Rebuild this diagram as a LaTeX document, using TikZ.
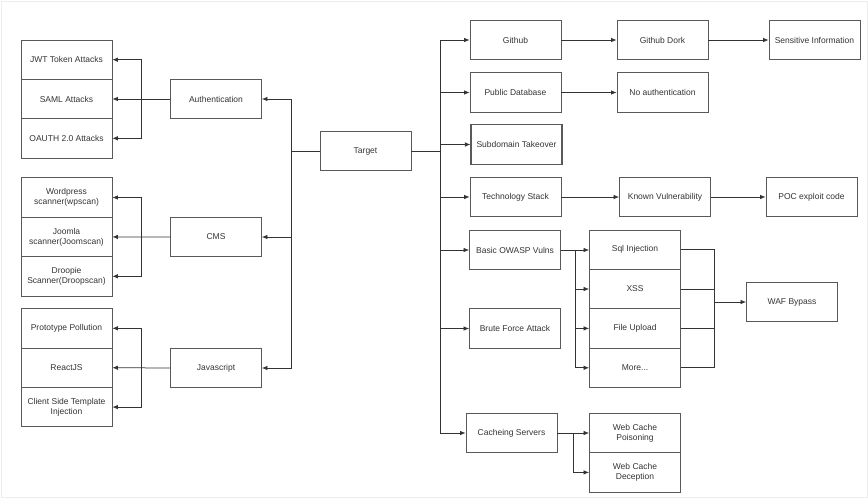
\documentclass[tikz,border=0pt]{standalone}
\usepackage{fontspec}
\setmainfont{Liberation Sans}
\definecolor{linegray}{rgb}{0.2, 0.2, 0.2}
\definecolor{boxgray}{rgb}{0.35, 0.35, 0.35}
\usepackage{tikz}
\usetikzlibrary{
    arrows.meta,
    positioning,
    calc
}
\tikzstyle{box} = [
    rectangle,
    draw=boxgray,
    line width=0.8pt,
    minimum width=91pt,
    minimum height=39.4pt,
    inner sep=1pt,
    align=center,
    text=linegray,
    font=\fontsize{8.5}{10}\selectfont
]
\tikzstyle{arrow} = [
    -{Latex[length=5.5pt,width=4.5pt]},
    line width=0.75pt,
    draw=linegray
]
\tikzstyle{wire} = [
    line width=0.75pt,
    draw=linegray
]

\begin{document}
\begin{tikzpicture}[x=1pt, y=-1pt]
        \useasboundingbox (0,0) rectangle (868,498);
        \draw[black!7] (1,1) rectangle (867,497);

        % Root
        \node[box] (target) at (365.5,151) {Target};

        % Left branches
        \node[box] (auth) at (216,99) {Authentication};
        \node[box] (cms) at (216,237) {CMS};
        \node[box] (js) at (216,368) {Javascript};

        \node[box] (jwt) at (66.5,59.7) {JWT Token Attacks};
        \node[box] (saml) at (66.5,99) {SAML Attacks};
        \node[box] (oauth) at (66.5,138.3) {OAUTH 2.0 Attacks};

        \node[box] (wpscan) at (66.5,197.5) {Wordpress\\scanner(wpscan)};
        \node[box] (joomscan) at (66.5,236.9) {Joomla\\scanner(Joomscan)};
        \node[box] (droopscan) at (66.5,276.3) {Droopie\\Scanner(Droopscan)};

        \node[box] (proto) at (66.5,328.3) {Prototype Pollution};
        \node[box] (reactjs) at (66.5,367.7) {ReactJS};
        \node[box] (csti) at (66.5,407.1) {Client Side Template\\Injection};

        % Right branches
        \node[box] (github) at (515.5,40) {Github};
        \node[box] (pubdb) at (515.5,92.5) {Public Database};
        \node[box, line width=1.1pt] (subdomain) at (516.5,144.5) {Subdomain Takeover};
        \node[box] (techstack) at (515.5,197) {Technology Stack};
        \node[box] (owasp) at (515,250) {Basic OWASP Vulns};
        \node[box] (brute) at (515,328.5) {Brute Force Attack};
        \node[box] (caching) at (511.5,433) {Cacheing Servers};

        \node[box] (dork) at (662.5,40) {Github Dork};
        \node[box] (sensitive) at (814.5,40) {Sensitive Information};
        \node[box] (noauth) at (662.5,92.5) {No authentication};
        \node[box] (known) at (665,197) {Known Vulnerability};
        \node[box] (poc) at (811.5,197) {POC exploit code};

        \node[box] (sqli) at (635,249.6) {Sql Injection};
        \node[box] (xss) at (635,289) {XSS};
        \node[box] (upload) at (635,328.4) {File Upload};
        \node[box] (more) at (635,367.8) {More...};
        \node[box] (waf) at (792,302) {WAF Bypass};

        \node[box] (poison) at (635,433) {Web Cache\\Poisoning};
        \node[box] (deception) at (635,472.4) {Web Cache\\Deception};

        % Bus points
        \coordinate (lbus) at (291,151);
        \coordinate (rbus) at (440,151);
        \coordinate (authbus) at (141,99);
        \coordinate (cmsbus) at (141,237);
        \coordinate (jsbus) at (141,368);
        \coordinate (owaspbus) at (575,250);
        \coordinate (wafbus) at (714,302);
        \coordinate (cachebus) at (573,433);

        % Target to the left
        \draw[wire] (target.west) -- (lbus);
        \draw[arrow] (lbus) |- (auth.east);
        \draw[arrow] (lbus) |- (cms.east);
        \draw[arrow] (lbus) |- (js.east);

        \draw[arrow] (auth.west) -- (saml.east);
        \draw[arrow] (authbus) |- (jwt.east);
        \draw[arrow] (authbus) |- (oauth.east);

        \draw[arrow] (cms.west) -- (joomscan.east);
        \draw[arrow] (cmsbus) |- (wpscan.east);
        \draw[arrow] (cmsbus) |- (droopscan.east);

        \draw[arrow] (js.west) -- (reactjs.east);
        \draw[arrow] (jsbus) |- (proto.east);
        \draw[arrow] (jsbus) |- (csti.east);

        % Target to the right
        \draw[wire] (target.east) -- (rbus);
        \draw[arrow] (rbus) |- (github.west);
        \draw[arrow] (rbus) |- (pubdb.west);
        \draw[arrow] (rbus) |- (subdomain.west);
        \draw[arrow] (rbus) |- (techstack.west);
        \draw[arrow] (rbus) |- (owasp.west);
        \draw[arrow] (rbus) |- (brute.west);
        \draw[arrow] (rbus) |- (caching.west);

        \draw[arrow] (github) -- (dork);
        \draw[arrow] (dork) -- (sensitive);
        \draw[arrow] (pubdb) -- (noauth);
        \draw[arrow] (techstack) -- (known);
        \draw[arrow] (known) -- (poc);

        % OWASP vulns
        \draw[arrow] (owasp.east) -- (sqli.west |- owasp.east);
        \draw[arrow] (owaspbus) |- (xss.west);
        \draw[arrow] (owaspbus) |- (upload.west);
        \draw[arrow] (owaspbus) |- (more.west);

        \draw[wire] (sqli.east) -| (wafbus);
        \draw[wire] (xss.east) -| (wafbus);
        \draw[wire] (upload.east) -| (wafbus);
        \draw[wire] (more.east) -| (wafbus);
        \draw[arrow] (wafbus) -- (waf.west);

        % Caching
        \draw[arrow] (caching.east) -- (poison.west);
        \draw[arrow] (cachebus) |- (deception.west);
    \end{tikzpicture}
\end{document}
